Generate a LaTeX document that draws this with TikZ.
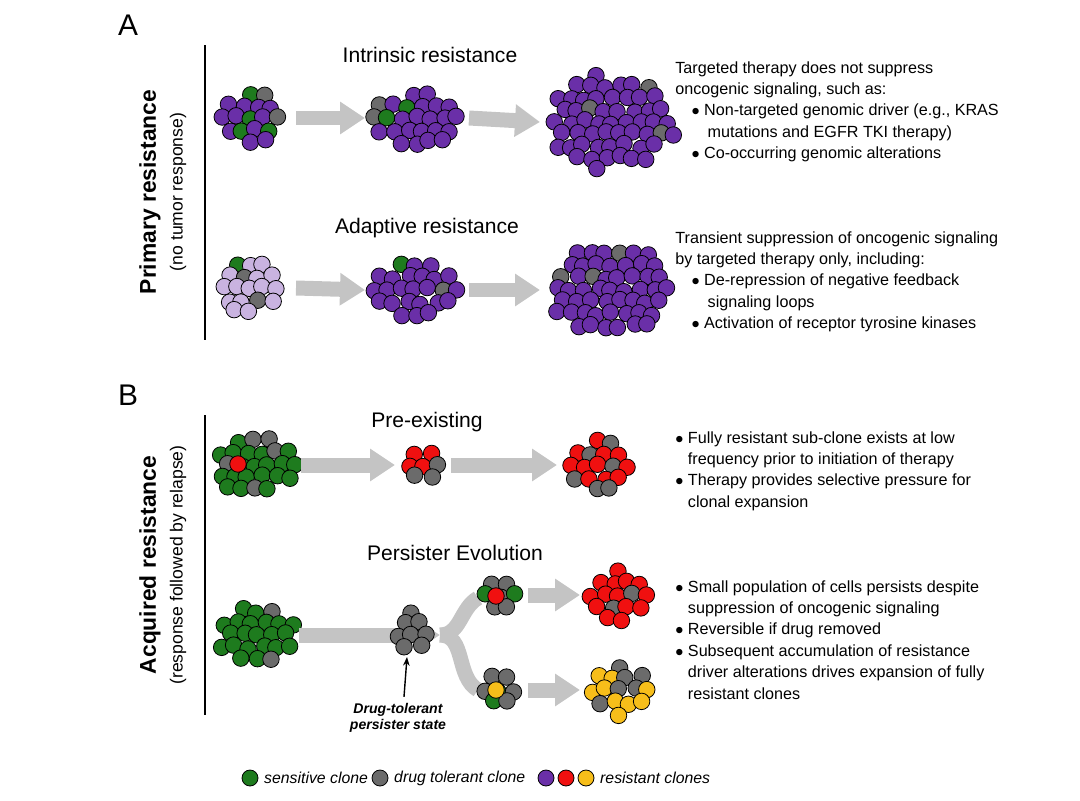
\documentclass[tikz,border=0pt]{standalone}
\usepackage{fontspec}
\setmainfont{Liberation Sans}
\usetikzlibrary{calc,arrows.meta,positioning}
\definecolor{sens}{HTML}{1E7B1E}
\definecolor{tol}{HTML}{6B6B6B}
\definecolor{res}{HTML}{6A2FA8}
\definecolor{lres}{HTML}{C9B3E0}
\definecolor{rred}{HTML}{F01010}
\definecolor{ryel}{HTML}{F7BE1A}
\definecolor{shaft}{HTML}{C4C4C4}
\tikzset{
  cell/.style={draw=black,line width=0.45pt},
  flow/.style={draw=shaft,line width=0.3cm,-{Triangle[length=0.5cm,width=0.62cm]}},
  branch/.style={draw=shaft,line width=0.3cm},
  title/.style={font=\fontsize{12}{14}\selectfont},
  info/.style={font=\fontsize{9.2}{12.2}\selectfont,align=left,anchor=north west,inner sep=0pt},
  panel/.style={font=\fontsize{17}{20}\selectfont},
}
\pgfmathsetseed{11}
% name, x, y, rx, ry, main, other1, other2, probability
\newcommand\cellblob[9]{%
  \coordinate (#1) at (#2,#3);
  \foreach \j in {-7,...,7}{\foreach \i in {-8,...,8}{%
    \pgfmathsetmacro\px{\i*14+mod(abs(\j),2)*7+rand*2.5}%
    \pgfmathsetmacro\py{\j*12+rand*2.5}%
    \pgfmathtruncatemacro\ins{(\px/#4)^2+(\py/#5)^2<=1?1:0}%
    \ifnum\ins=1
      \pgfmathtruncatemacro\pick{rnd<#9?1:(rnd<#9?2:0)}%
      \ifcase\pick \def\cc{#6}\or\def\cc{#7}\or\def\cc{#8}\fi
      \draw[cell,fill=\cc] ($(#1)+(\px,\py)$) circle[radius=0.165cm];
    \fi}}}
\begin{document}
\begin{tikzpicture}[x=0.02cm,y=-0.02cm]
\useasboundingbox (0,0) rectangle (1080,801);
% Panel A
\node[panel] (pA) at (128,25) {A};
\draw[line width=0.8pt] (205,45) -- (205,340);
\node[rotate=90,font=\bfseries\fontsize{13}{15}\selectfont] (prim) at (150,192) {Primary resistance};
\node[rotate=90,font=\fontsize{10}{12}\selectfont] (primsub) at (178,192) {(no tumor response)};

\node[title] (intr) at (430,55) {Intrinsic resistance};
\cellblob{i1}{250}{118}{34}{26}{res}{sens}{tol}{0.12}
\cellblob{i2}{415}{118}{44}{28}{res}{sens}{tol}{0.05}
\cellblob{i3}{612}{122}{64}{48}{res}{tol}{tol}{0.03}
\draw[flow] (i1) ++(46,0) -- ($(i2)+(-50,0)$);
\draw[flow] (i2) ++(54,0) -- ($(i3)+(-72,0)$);
\node[info] (t1) at (675,61) {Targeted therapy does not suppress\\oncogenic signaling, such as:\\
\quad$\bullet$ Non-targeted genomic driver (e.g., KRAS\\\qquad mutations and EGFR TKI therapy)\\\quad$\bullet$ Co-occurring genomic alterations};

\node[title] (adap) at (427,228) {Adaptive resistance};
\cellblob{a1}{250}{288}{34}{26}{lres}{sens}{tol}{0.12}
\cellblob{a2}{415}{290}{44}{28}{res}{sens}{tol}{0.05}
\cellblob{a3}{612}{290}{64}{48}{res}{tol}{tol}{0.03}
\draw[flow] (a1) ++(46,0) -- ($(a2)+(-50,0)$);
\draw[flow] (a2) ++(54,0) -- ($(a3)+(-72,0)$);
\node[info] (t2) at (675,231) {Transient suppression of oncogenic signaling\\by targeted therapy only, including:\\
\quad$\bullet$ De-repression of negative feedback\\\qquad signaling loops\\\quad$\bullet$ Activation of receptor tyrosine kinases};

% Panel B
\node[panel] (pB) at (128,395) {B};
\draw[line width=0.8pt] (205,415) -- (205,715);
\node[rotate=90,font=\bfseries\fontsize{13}{15}\selectfont] (acq) at (150,565) {Acquired resistance};
\node[rotate=90,font=\fontsize{10}{12}\selectfont] (acqsub) at (178,565) {(response followed by relapse)};

\node[title] (pre) at (427,422) {Pre-existing};
\cellblob{p1}{255}{465}{40}{30}{sens}{tol}{tol}{0.1}
\draw[cell,fill=rred] (238,464) circle[radius=0.165cm];
\cellblob{p2}{423}{465}{18}{18}{tol}{rred}{rred}{0.4}
\cellblob{p3}{597}{465}{34}{26}{rred}{tol}{tol}{0.1}
\draw[flow] (p1) ++(46,0) -- ($(p2)+(-28,0)$);
\draw[flow] (p2) ++(28,0) -- ($(p3)+(-40,0)$);
\node[info] (t3) at (675,431) {$\bullet$ Fully resistant sub-clone exists at low\\\phantom{$\bullet$} frequency prior to initiation of therapy\\
$\bullet$ Therapy provides selective pressure for\\\phantom{$\bullet$} clonal expansion};

\node[title] (pers) at (455,553) {Persister Evolution};
\coordinate (fork) at (440,635);
\coordinate (up) at (478,598);
\coordinate (dn) at (478,690);
\draw[branch] (fork) to[out=0,in=-150] (up);
\draw[branch] (fork) to[out=0,in=150] (dn);
\cellblob{e1}{257}{635}{40}{30}{sens}{tol}{tol}{0.1}
\draw[flow] (e1) ++(42,0) -- (fork);
\cellblob{e2}{413}{635}{20}{22}{tol}{tol}{tol}{0}
\cellblob{u1}{500}{595}{19}{20}{tol}{sens}{sens}{0.2}
\draw[cell,fill=rred] (496,596) circle[radius=0.165cm];
\cellblob{d1}{500}{690}{19}{20}{tol}{sens}{sens}{0.2}
\draw[cell,fill=ryel] (496,690) circle[radius=0.165cm];
\cellblob{u2}{620}{595}{34}{26}{rred}{tol}{tol}{0.12}
\cellblob{d2}{620}{690}{34}{26}{ryel}{tol}{tol}{0.15}
\draw[flow] (u1) ++(28,0) -- ($(u2)+(-40,0)$);
\draw[flow] (d1) ++(28,0) -- ($(d2)+(-40,0)$);
\node[font=\bfseries\itshape\fontsize{8}{9.5}\selectfont,align=center] (dtp) at (398,718) {Drug-tolerant\\persister state};
\draw[-{Stealth[length=5pt]},line width=0.8pt] (dtp.north) ++(6,0) -- ($(e2)+(-6,22)$);
\node[info] (t4) at (675,580) {$\bullet$ Small population of cells persists despite\\\phantom{$\bullet$} suppression of oncogenic signaling\\
$\bullet$ Reversible if drug removed\\$\bullet$ Subsequent accumulation of resistance\\\phantom{$\bullet$} driver alterations drives expansion of fully\\\phantom{$\bullet$} resistant clones};

% legend
\draw[cell,fill=sens] (250,778) circle[radius=0.16cm];
\node[right,font=\itshape\fontsize{9}{11}\selectfont] (l1) at (258,778) {sensitive clone};
\draw[cell,fill=tol] (380,778) circle[radius=0.16cm];
\node[right,font=\itshape\fontsize{9}{11}\selectfont] (l2) at (388,778) {drug tolerant clone};
\draw[cell,fill=res] (546,778) circle[radius=0.16cm];
\draw[cell,fill=rred] (566,778) circle[radius=0.16cm];
\draw[cell,fill=ryel] (586,778) circle[radius=0.16cm];
\node[right,font=\itshape\fontsize{9}{11}\selectfont] (l3) at (594,778) {resistant clones};
\end{tikzpicture}
\end{document}
